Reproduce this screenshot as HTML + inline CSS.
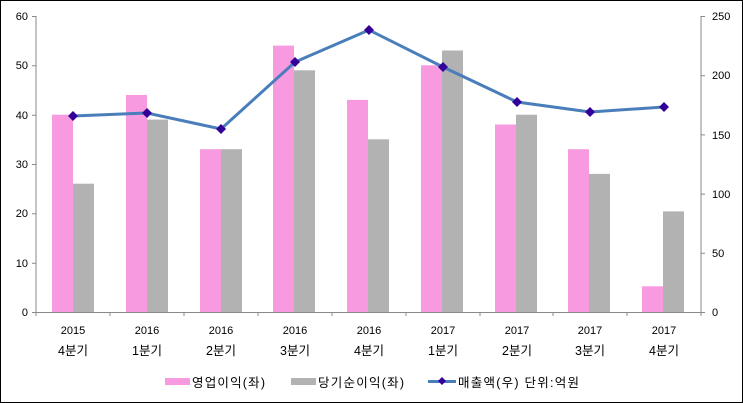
<!DOCTYPE html><html><head><meta charset="utf-8"><style>body{margin:0}svg{display:block}text{font-family:"Liberation Sans","Noto Sans CJK KR",sans-serif;font-size:11px;fill:#000}.k{font-size:12.5px}</style></head><body>
<svg width="743" height="403" xmlns="http://www.w3.org/2000/svg">
<rect x="0.5" y="0.5" width="742" height="402" fill="#fff" stroke="#000"/>
<g fill="#f79ae0">
<rect x="52" y="114.7" width="21" height="197.3"/><rect x="126" y="95" width="21" height="217"/><rect x="200" y="149.2" width="21" height="162.8"/><rect x="273" y="45.6" width="21" height="266.4"/><rect x="347" y="99.9" width="21" height="212.1"/><rect x="421" y="65.3" width="21" height="246.7"/><rect x="495" y="124.5" width="21" height="187.5"/><rect x="568" y="149.2" width="21" height="162.8"/><rect x="642" y="286.3" width="21" height="25.7"/>
</g>
<g fill="#b2b2b2">
<rect x="73" y="183.7" width="21" height="128.3"/><rect x="147" y="119.6" width="21" height="192.4"/><rect x="221" y="149.2" width="21" height="162.8"/><rect x="294" y="70.3" width="21" height="241.7"/><rect x="368" y="139.3" width="21" height="172.7"/><rect x="442" y="50.5" width="21" height="261.5"/><rect x="516" y="114.7" width="21" height="197.3"/><rect x="589" y="173.9" width="21" height="138.1"/><rect x="663" y="211.4" width="21" height="100.6"/>
</g>
<g stroke="#888" stroke-width="1">
<line x1="36" y1="16" x2="36" y2="312"/><line x1="701" y1="16" x2="701" y2="316"/><line x1="32" y1="312.5" x2="701" y2="312.5"/>
<path d="M32 16.5h4M32 65.8h4M32 115.2h4M32 164.5h4M32 213.8h4M32 263.2h4M701 16.5h4M701 75.7h4M701 134.9h4M701 194.1h4M701 253.3h4M701 312.5h4"/>
<path d="M36 312v4M110 312v4M184 312v4M258 312v4M332 312v4M406 312v4M480 312v4M553 312v4M627 312v4M701 312v4"/>
</g>
<g text-anchor="end"><text x="28" y="20">60</text><text x="28" y="69">50</text><text x="28" y="119">40</text><text x="28" y="168">30</text><text x="28" y="217">20</text><text x="28" y="267">10</text><text x="28" y="316">0</text></g>
<g><text x="712" y="20">250</text><text x="712" y="79">200</text><text x="712" y="139">150</text><text x="712" y="198">100</text><text x="712" y="257">50</text><text x="712" y="316">0</text></g>
<polyline points="73,116 147,113 221,129 295,62 369,30 443,67 517,102 590,112 664,107" fill="none" stroke="#4a7ebb" stroke-width="3"/>
<g fill="#330099">
<path d="M73 111l5 5-5 5-5-5z"/><path d="M147 108l5 5-5 5-5-5z"/><path d="M221 124l5 5-5 5-5-5z"/><path d="M295 57l5 5-5 5-5-5z"/><path d="M369 25l5 5-5 5-5-5z"/><path d="M443 62l5 5-5 5-5-5z"/><path d="M517 97l5 5-5 5-5-5z"/><path d="M590 107l5 5-5 5-5-5z"/><path d="M664 102l5 5-5 5-5-5z"/>
</g>
<g text-anchor="middle">
<text x="73" y="334">2015</text><text class="k" x="73" y="355">4분기</text>
<text x="147" y="334">2016</text><text class="k" x="147" y="355">1분기</text>
<text x="221" y="334">2016</text><text class="k" x="221" y="355">2분기</text>
<text x="295" y="334">2016</text><text class="k" x="295" y="355">3분기</text>
<text x="369" y="334">2016</text><text class="k" x="369" y="355">4분기</text>
<text x="443" y="334">2017</text><text class="k" x="443" y="355">1분기</text>
<text x="517" y="334">2017</text><text class="k" x="517" y="355">2분기</text>
<text x="590" y="334">2017</text><text class="k" x="590" y="355">3분기</text>
<text x="664" y="334">2017</text><text class="k" x="664" y="355">4분기</text>
</g>
<rect x="165" y="378" width="25" height="7" fill="#f79ae0"/><text class="k" x="192" y="387" textLength="73">영업이익(좌)</text>
<rect x="291" y="378" width="25" height="7" fill="#b2b2b2"/><text class="k" x="318" y="387" textLength="86">당기순이익(좌)</text>
<line x1="428" y1="381.5" x2="456" y2="381.5" stroke="#4a7ebb" stroke-width="3"/><path d="M442 377l4 4-4 4-4-4z" fill="#330099"/>
<text class="k" x="458" y="387" textLength="121">매출액(우)  단위:억원</text>
</svg></body></html>
